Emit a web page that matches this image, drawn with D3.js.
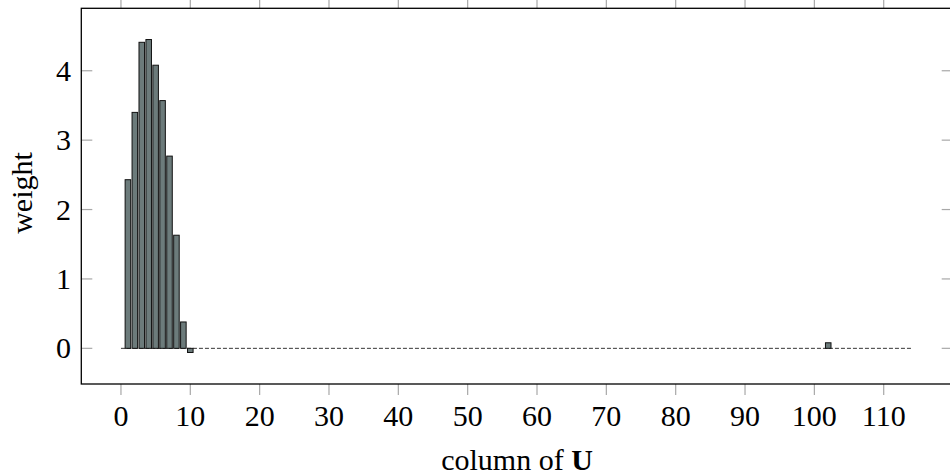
<!DOCTYPE html>
<html><head><meta charset="utf-8">
<script src="https://cdn.jsdelivr.net/npm/d3@7"></script>
<style>html,body{margin:0;padding:0;background:#fff}</style>
</head><body>
<svg id="c" width="950" height="475"></svg>
<script>
const columns = [1,2,3,4,5,6,7,8,9,10,102];
const weights = [2.43,3.40,4.41,4.45,4.08,3.57,2.77,1.63,0.38,-0.06,0.08];
const xTicks = [0,10,20,30,40,50,60,70,80,90,100,110];
const yTicks = [0,1,2,3,4];
const baseline = [0,114];

const L=81.3, R=952.7, T=8.3, B=384;
const x = d3.scaleLinear().domain([-5.72,119.95]).range([L,R]);
const y = d3.scaleLinear().domain([-0.514,4.9]).range([B,T]);
const svg = d3.select('#c');
const font = "'Liberation Serif', 'DejaVu Serif', serif";
const fs = 30;
const tickCol = '#a8a8a8', tl = 11;

// x ticks outside top and bottom
svg.append('g').selectAll('line').data(xTicks).join('line')
  .attr('x1',d=>x(d)).attr('x2',d=>x(d)).attr('y1',B).attr('y2',B+tl)
  .attr('stroke',tickCol).attr('stroke-width',1.2);
svg.append('g').selectAll('line').data(xTicks).join('line')
  .attr('x1',d=>x(d)).attr('x2',d=>x(d)).attr('y1',T).attr('y2',T-tl)
  .attr('stroke',tickCol).attr('stroke-width',1.2);
// y ticks inside left and right
svg.append('g').selectAll('line').data(yTicks).join('line')
  .attr('x1',L).attr('x2',L+tl).attr('y1',d=>y(d)).attr('y2',d=>y(d))
  .attr('stroke',tickCol).attr('stroke-width',1.2);
svg.append('g').selectAll('line').data(yTicks).join('line')
  .attr('x1',R).attr('x2',R-tl).attr('y1',d=>y(d)).attr('y2',d=>y(d))
  .attr('stroke',tickCol).attr('stroke-width',1.2);

// dashed zero line
svg.append('line').attr('x1',x(baseline[0])).attr('x2',x(baseline[1]))
  .attr('y1',y(0)).attr('y2',y(0)).attr('stroke','#000').attr('stroke-width',0.8)
  .attr('stroke-dasharray','4,2');

// bars
const bw = 0.8;
svg.append('g').selectAll('rect').data(columns.map((c,i)=>({c,v:weights[i]}))).join('rect')
  .attr('x',d=>x(d.c-bw/2)).attr('width',x(bw)-x(0))
  .attr('y',d=>y(Math.max(0,d.v))).attr('height',d=>Math.abs(y(d.v)-y(0)))
  .attr('fill','#6c7b7b').attr('stroke','#111').attr('stroke-width',1);

// frame
svg.append('rect').attr('x',L).attr('y',T).attr('width',R-L).attr('height',B-T)
  .attr('fill','none').attr('stroke','#000').attr('stroke-width',1.3);

// tick labels
svg.append('g').selectAll('text').data(xTicks).join('text')
  .attr('x',d=>x(d)).attr('y',426).attr('text-anchor','middle')
  .attr('font-family',font).attr('font-size',fs).text(d=>d);
svg.append('g').selectAll('text').data(yTicks).join('text')
  .attr('x',71).attr('y',d=>y(d)+10).attr('text-anchor','end')
  .attr('font-family',font).attr('font-size',fs).text(d=>d);

// axis labels
const xl = svg.append('text').attr('x',(L+R)/2).attr('y',470).attr('text-anchor','middle')
  .attr('font-family',font).attr('font-size',fs);
xl.append('tspan').text('column of ');
xl.append('tspan').attr('font-weight','bold').text('U');
svg.append('text').attr('transform',`translate(32,193) rotate(-90)`)
  .attr('text-anchor','middle').attr('font-family',font).attr('font-size',fs).text('weight');
</script>
</body></html>
